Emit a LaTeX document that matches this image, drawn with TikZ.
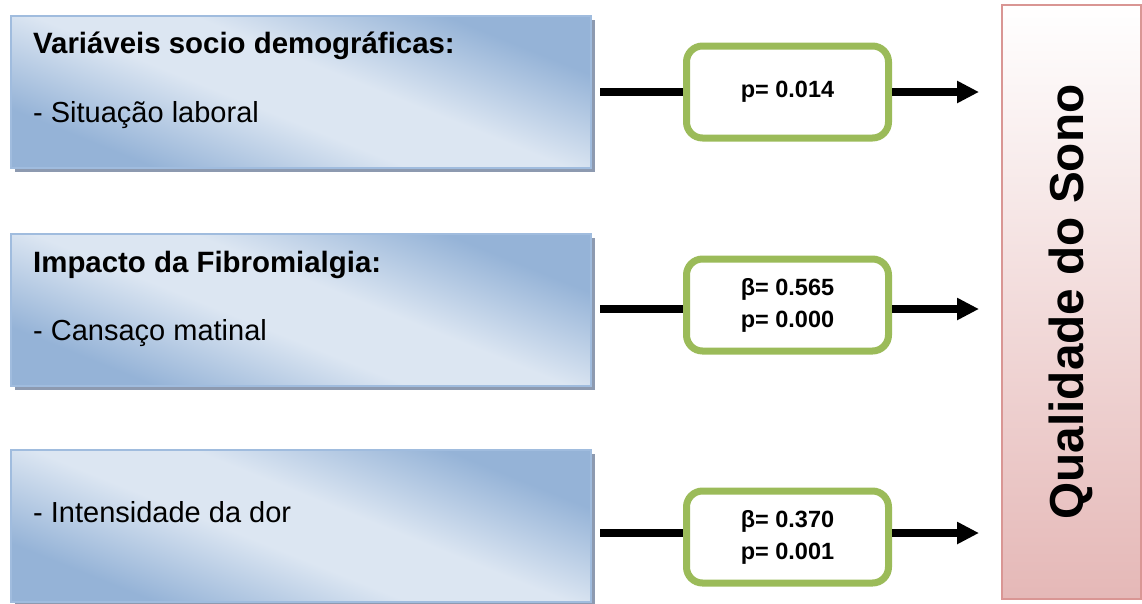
\documentclass[tikz,border=0pt]{standalone}
\usepackage{fontspec}
\setmainfont{Liberation Sans}
\usetikzlibrary{arrows.meta,shadows}
\definecolor{boxdark}{RGB}{149,179,215}
\definecolor{boxlight}{RGB}{220,230,242}
\definecolor{boxedge}{RGB}{160,188,222}
\definecolor{boxshadow}{RGB}{141,154,176}
\definecolor{pvalgreen}{RGB}{155,187,89}
\definecolor{sonobottom}{RGB}{229,184,183}
\definecolor{sonoedge}{RGB}{217,150,148}
% diagonal blue fill: dark corners, light band through the middle
\pgfdeclareverticalshading{boxgrad}{100bp}{color(0bp)=(boxdark); color(39.6bp)=(boxdark);
  color(47.5bp)=(boxlight); color(52.5bp)=(boxlight); color(60.4bp)=(boxdark); color(100bp)=(boxdark)}
\begin{document}
\begin{tikzpicture}[x=1pt,y=-1pt,
  varbox/.style={draw=boxedge, line width=1.5pt,
    minimum width=580pt, minimum height=152pt, anchor=north west, inner sep=0pt,
    drop shadow={shadow xshift=4pt, shadow yshift=-4pt, fill=boxshadow, opacity=1},
    path picture={\shade[shading=boxgrad, shading angle=-22]
      ([shift={(-300,-300)}]path picture bounding box.center) rectangle
      ([shift={(300,300)}]path picture bounding box.center);}},
  vartext/.style={anchor=base west, inner sep=0pt, font=\fontsize{29}{34}\selectfont},
  varhead/.style={anchor=base west, inner sep=0pt, font=\fontsize{29.4}{34}\selectfont\bfseries},
  statbox/.style={draw=pvalgreen, line width=7pt, rounded corners=16pt, fill=white,
    minimum width=202pt, minimum height=92pt, inner sep=0pt, align=center,
    font=\fontsize{23.5}{32}\selectfont\bfseries},
  sonobox/.style={draw=sonoedge, line width=2pt, top color=white, bottom color=sonobottom,
    minimum width=139pt, minimum height=594pt, inner sep=0pt},
  conn/.style={line width=7.5pt},
  arrowconn/.style={conn, -{Triangle[length=22pt,width=21pt]}, shorten >=22pt}
]
\useasboundingbox (0,0) rectangle (1142,603);

% predictor boxes
\node[varbox] (b1) at (10,15) {};
\node[varbox] (b2) at (10,233) {};
\node[varbox] (b3) at (10,449) {};

\node[varhead] (t1a) at (33,53) {Variáveis socio demográficas:};
\node[vartext] (t1b) at (33,122) {- Situação laboral};
\node[varhead] (t2a) at (33,272) {Impacto da Fibromialgia:};
\node[vartext] (t2b) at (33,340) {- Cansaço matinal};
\node[vartext] (t3a) at (33,522) {- Intensidade da dor};

% outcome box
\node[sonobox] (qsbox) at (1071.5,302) {};
\node[rotate=90, anchor=base, inner sep=0pt, font=\fontsize{47.7}{50}\selectfont\bfseries]
  (qslabel) at (1083,302) {Qualidade do Sono};

% statistics
\node[statbox] (g1) at (787.5,92) {p= 0.014};
\node[statbox] (g2) at (787.5,305) {β= 0.565\\p= 0.000};
\node[statbox] (g3) at (787.5,537) {β= 0.370\\p= 0.001};

% connectors
\coordinate (s1) at (600,92);
\coordinate (s2) at (600,309);
\coordinate (s3) at (600,533);
\draw[conn] (s1) -- (s1 -| g1.west);
\draw[conn] (s2) -- (s2 -| g2.west);
\draw[conn] (s3) -- (s3 -| g3.west);
\draw[arrowconn] (s1 -| g1.east) -- (s1 -| qsbox.west);
\draw[arrowconn] (s2 -| g2.east) -- (s2 -| qsbox.west);
\draw[arrowconn] (s3 -| g3.east) -- (s3 -| qsbox.west);
\end{tikzpicture}
\end{document}
